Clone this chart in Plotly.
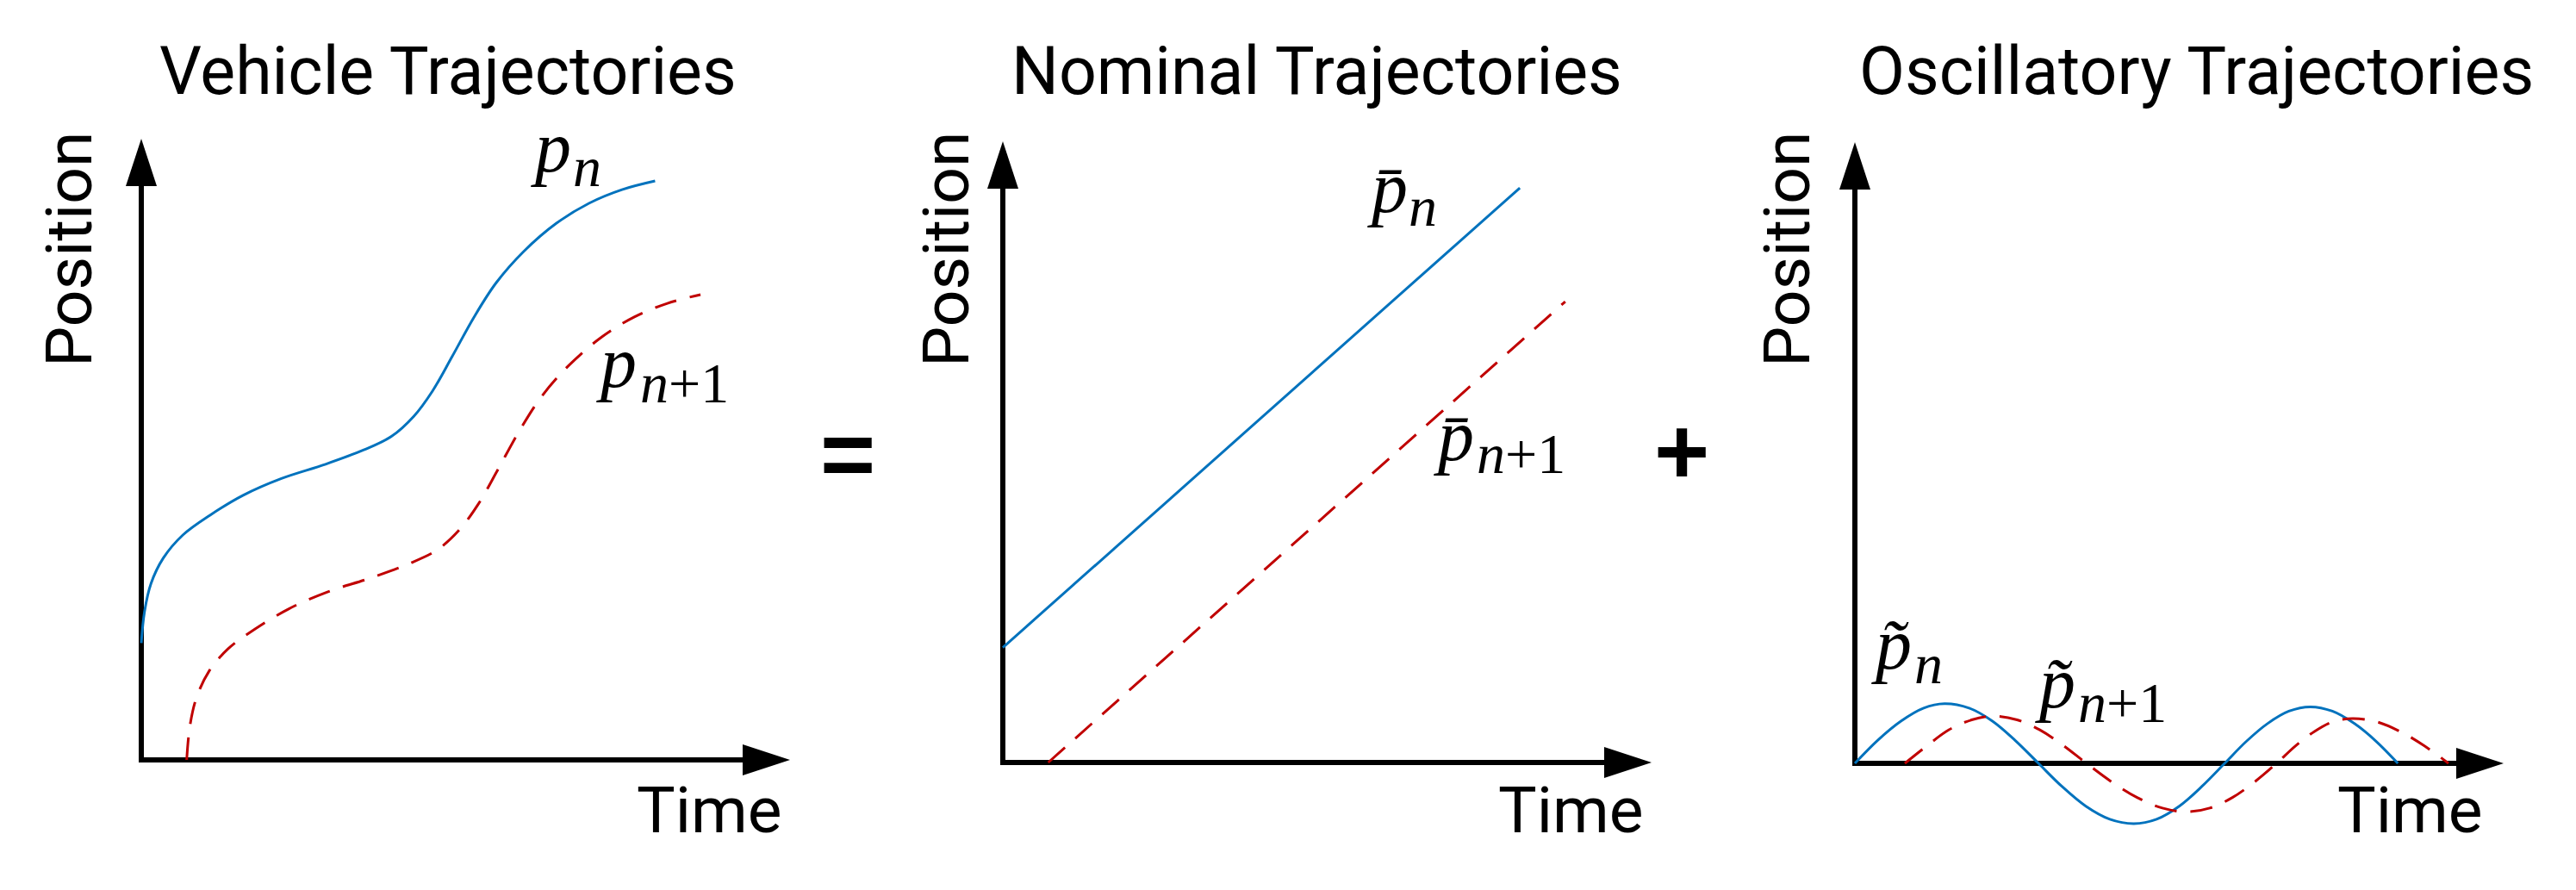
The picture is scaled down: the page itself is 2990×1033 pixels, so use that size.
import plotly.graph_objects as go

# ---------------- data ----------------
panel_titles = ["Vehicle Trajectories", "Nominal Trajectories", "Oscillatory Trajectories"]
x_label = "Time"
y_label = "Position"

# Panel 1: vehicle trajectories (time, position)
veh_t_n = [0.00, 0.05, 0.15, 0.34, 0.64, 1.06, 1.57, 2.16, 2.84, 3.43, 3.86, 4.20, 4.49, 4.79, 5.13, 5.47, 5.89, 6.40, 6.90, 7.41, 7.92]
veh_p_n = [1.88, 2.39, 2.84, 3.25, 3.62, 3.94, 4.26, 4.53, 4.76, 4.99, 5.21, 5.53, 5.94, 6.49, 7.13, 7.68, 8.18, 8.64, 8.96, 9.18, 9.32]
veh_t_n1 = [0.70, 0.75, 0.85, 1.04, 1.34, 1.76, 2.27, 2.86, 3.54, 4.13, 4.56, 4.90, 5.19, 5.49, 5.83, 6.17, 6.59, 7.10, 7.60, 8.11, 8.62]
veh_p_n1 = [0.00, 0.55, 1.00, 1.42, 1.79, 2.11, 2.43, 2.70, 2.93, 3.16, 3.38, 3.70, 4.11, 4.66, 5.30, 5.85, 6.35, 6.81, 7.13, 7.35, 7.49]

# Panel 2: nominal trajectories
nom_t_n = [0.00, 7.97]
nom_p_n = [1.85, 9.25]
nom_t_n1 = [0.70, 8.67]
nom_p_n1 = [0.00, 7.42]

# Panel 3: oscillatory trajectories
osc_t_n = [0.00, 0.35, 0.71, 1.06, 1.38, 1.76, 2.12, 2.47, 2.83, 3.19, 3.56, 3.93, 4.30, 4.65, 5.00, 5.35,
           5.70, 6.03, 6.36, 6.69, 7.02, 7.36, 7.70, 8.04, 8.37]
osc_p_n = [0.00, 0.37, 0.68, 0.89, 0.96, 0.89, 0.68, 0.37, 0.00, -0.37, -0.69, -0.90, -0.97, -0.90, -0.69, -0.37,
           0.00, 0.35, 0.64, 0.84, 0.91, 0.84, 0.64, 0.35, 0.00]
osc_t_n1 = [0.77, 1.12, 1.45, 1.80, 2.14, 2.50, 2.85, 3.21, 3.57, 3.96, 4.35, 4.74, 5.12, 5.47, 5.82, 6.16,
            6.50, 6.79, 7.08, 7.37, 7.67, 8.04, 8.41, 8.78, 9.15]
osc_p_n1 = [0.00, 0.29, 0.54, 0.70, 0.76, 0.70, 0.54, 0.29, 0.00, -0.30, -0.55, -0.72, -0.78, -0.72, -0.55, -0.30,
            0.00, 0.28, 0.51, 0.67, 0.72, 0.67, 0.51, 0.28, 0.00]

# series labels: main symbol and subscript per panel (n, n+1)
label_main = [["<i>p</i>", "<i>p</i>"],
              ["<i>p\u0304</i>", "<i>p\u0304</i>"],
              ["<i>p\u0303</i>", "<i>p\u0303</i>"]]
label_sub = [["<i>n</i>", "<i>n</i>+1"]] * 3
operators = ["=", "+"]

# ---------------- layout / style ----------------
W, H = 2990, 1033
SX, SY = 75.3, 72.1          # px per data unit
AX_LEN_T, AX_LEN_P = 10.0, 10.0
BLUE = "#0072BD"
RED = "#C00000"
SANS = "Roboto"
SERIF = "Liberation Serif"
MAIN_SIZE, SUB_SIZE = 84, 66

panels = [
    dict(ox=156, oy=874),
    dict(ox=1156, oy=877),
    dict(ox=2145, oy=878),
]

fig = go.Figure()
layout = dict(width=W, height=H, margin=dict(l=0, r=0, t=0, b=0),
              paper_bgcolor="white", plot_bgcolor="white", showlegend=False)

shapes = []
annotations = []

def px2paper(x, y):
    return x / W, 1 - y / H

def ann(text, cx, cy, size, family, xanchor="center", angle=0):
    x, y = px2paper(cx, cy)
    annotations.append(dict(text=text, x=x, y=y, xref="paper", yref="paper", showarrow=False,
                            xanchor=xanchor, yanchor="middle", textangle=angle,
                            borderpad=0, borderwidth=0,
                            font=dict(family=family, size=size, color="black")))

series = [
    (veh_t_n, veh_p_n, veh_t_n1, veh_p_n1, "spline"),
    (nom_t_n, nom_p_n, nom_t_n1, nom_p_n1, "linear"),
    (osc_t_n, osc_p_n, osc_t_n1, osc_p_n1, "spline"),
]

for i, pn in enumerate(panels):
    ox, oy = pn["ox"], pn["oy"]
    x0px, x1px = ox - 120, ox + 800
    ytop, ybot = 100, 1010
    sfx = "" if i == 0 else str(i + 1)
    layout["xaxis" + sfx] = dict(domain=[x0px / W, x1px / W],
                                 range=[(x0px - ox) / SX, (x1px - ox) / SX],
                                 visible=False, fixedrange=True)
    layout["yaxis" + sfx] = dict(domain=[1 - ybot / H, 1 - ytop / H],
                                 range=[(oy - ybot) / SY, (oy - ytop) / SY],
                                 visible=False, fixedrange=True)
    xr, yr = "x" + sfx, "y" + sfx

    # axes with arrow heads
    L, HW, LW = 55, 18, 6
    shapes.append(dict(type="line", xref=xr, yref=yr, x0=-LW / 2 / SX, y0=0,
                       x1=AX_LEN_T - (L - 2) / SX, y1=0, line=dict(color="black", width=LW), layer="below"))
    shapes.append(dict(type="line", xref=xr, yref=yr, x0=0, y0=-LW / 2 / SY,
                       x1=0, y1=AX_LEN_P - (L - 2) / SY, line=dict(color="black", width=LW), layer="below"))
    bx = AX_LEN_T - L / SX
    shapes.append(dict(type="path", xref=xr, yref=yr, layer="below",
                       path=f"M {bx},{HW / SY} L {AX_LEN_T},0 L {bx},{-HW / SY} Z",
                       fillcolor="black", line=dict(width=0)))
    by = AX_LEN_P - L / SY
    shapes.append(dict(type="path", xref=xr, yref=yr, layer="below",
                       path=f"M {-HW / SX},{by} L 0,{AX_LEN_P} L {HW / SX},{by} Z",
                       fillcolor="black", line=dict(width=0)))

    tn, pnv, tn1, pn1v, shp = series[i]
    fig.add_trace(go.Scatter(x=tn, y=pnv, xaxis=xr, yaxis=yr, mode="lines", hoverinfo="skip",
                             line=dict(color=BLUE, width=3, shape=shp)))
    fig.add_trace(go.Scatter(x=tn1, y=pn1v, xaxis=xr, yaxis=yr, mode="lines", hoverinfo="skip",
                             line=dict(color=RED, width=3, shape=shp, dash="26px,16px")))

# titles
for t, cx in zip(panel_titles, [512, 1521, 2541]):
    ann(t, cx, 75, 77, SANS)
# y labels
for cx in [72, 1090, 2066]:
    ann(y_label, cx, 281, 75, SANS, angle=-90)
# x labels
for cx in [815, 1815, 2789]:
    ann(x_label, cx, 932, 75, SANS)

# series labels: (main left, main baseline, sub left, sub baseline)
label_geom = [
    [(608, 195, 657, 212), (684, 445, 735, 463)],
    [(1579, 242, 1627, 258), (1656, 530, 1706, 545)],
    [(2164, 772, 2214, 789), (2354, 817, 2404, 834)],
]
for mains, subs, geoms in zip(label_main, label_sub, label_geom):
    for m, s, (mx, mb, sx_, sb) in zip(mains, subs, geoms):
        ann(m, mx, mb - 0.3375 * MAIN_SIZE - 4, MAIN_SIZE, SERIF, xanchor="left")
        ann(s, sx_, sb - 0.3375 * SUB_SIZE - 4, SUB_SIZE, SERIF, xanchor="left")

# operators
for op, (cx, cy) in zip(operators, [(976, 518), (1944, 516)]):
    ann("<b>" + op + "</b>", cx, cy, 110, "Liberation Sans")

layout["shapes"] = shapes
layout["annotations"] = annotations
fig.update_layout(**layout)
fig.write_html("out.html")
